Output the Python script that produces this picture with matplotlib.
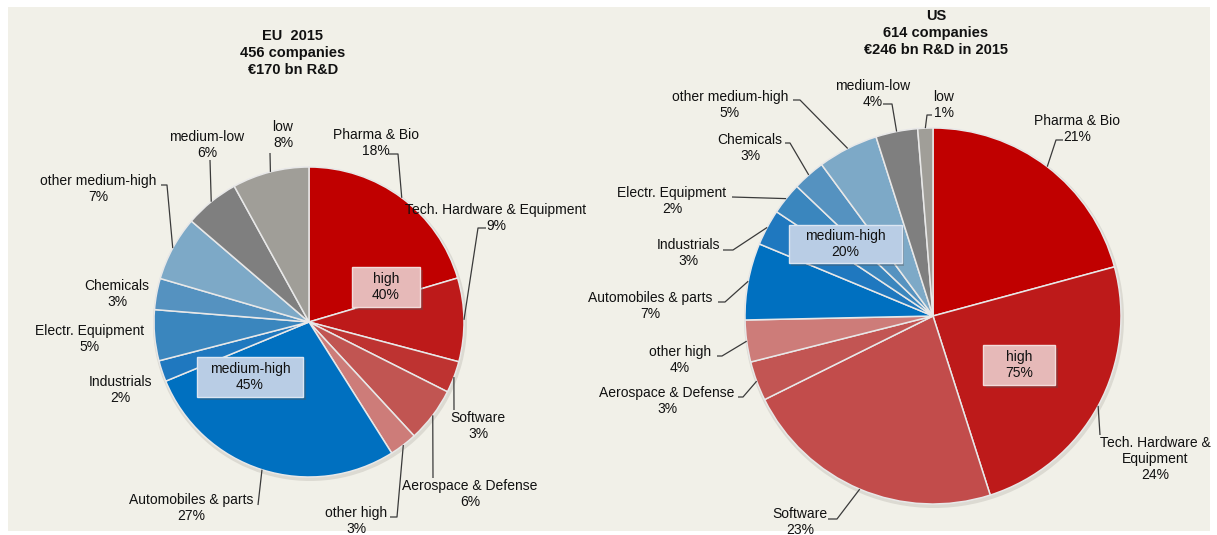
import numpy as np
import matplotlib
matplotlib.use("Agg")
import matplotlib.pyplot as plt
from matplotlib import font_manager
from matplotlib.patches import Rectangle, Circle
import matplotlib.patheffects as pe

W, H = 1217, 535

# sector shares (clockwise from 12 o'clock)
sectors = ["Pharma & Bio", "Tech. Hardware & Equipment", "Software", "Aerospace & Defense",
           "other high", "Automobiles & parts", "Industrials", "Electr. Equipment",
           "Chemicals", "other medium-high", "medium-low", "low"]
eu_values = [20.4, 8.7, 3.3, 5.7, 2.9, 27.7, 2.2, 5.3, 3.25, 6.75, 5.7, 8.0]
us_values = [20.8, 24.3, 22.6, 3.4, 3.6, 6.6, 3.1, 2.75, 2.8, 5.2, 3.6, 1.3]

# percentages as printed on the chart
eu_pct = ["18%", "9%", "3%", "6%", "3%", "27%", "2%", "5%", "3%", "7%", "6%", "8%"]
us_pct = ["21%", "24%", "23%", "3%", "4%", "7%", "3%", "2%", "3%", "5%", "4%", "1%"]

eu_groups = [("high", "40%"), ("medium-high", "45%")]
us_groups = [("medium-high", "20%"), ("high", "75%")]

eu_title = "EU  2015\n456 companies\n€170 bn R&D"
us_title = "US\n614 companies\n€246 bn R&D in 2015"

eu_colors = ["#C00000", "#BD1A1A", "#BE3331", "#C15552", "#CD7C79", "#0070C0",
             "#1F78BF", "#3A86BE", "#5592C0", "#7DA9C7", "#7F7F7F", "#A09E98"]
us_colors = ["#C00000", "#BD1A1A", "#C24C4B", "#C25553", "#CD7C79", "#0070C0",
             "#1F78BF", "#3A86BE", "#5592C0", "#7DA9C7", "#7F7F7F", "#A09E98"]

names = {f.name for f in font_manager.fontManager.ttflist}
title_font = "Liberation Sans Narrow" if "Liberation Sans Narrow" in names else "Liberation Sans"
plt.rcParams["font.family"] = ["Liberation Sans", "DejaVu Sans"]


def P(x, y):
    # reference pixel -> data coords
    return x, H - y


fig = plt.figure(figsize=(W / 100, H / 100), dpi=100)
fig.patch.set_facecolor("white")
ax = fig.add_axes([0, 0, 1, 1])
ax.add_patch(Rectangle(P(8, 531), 1202, 524, facecolor="#F1F0E8", edgecolor="none", zorder=0))


def draw_pie(values, colors, center, r):
    cx, cy = P(*center)
    ax.add_patch(Circle((cx + 1, cy - 2), r + 2, facecolor="#DCDAD2", edgecolor="none", zorder=1))
    wedges, _ = ax.pie(values, colors=colors, startangle=90, counterclock=False,
                       center=(cx, cy), radius=r,
                       wedgeprops=dict(edgecolor="#E8E8E8", linewidth=1.1))
    for w in wedges:
        w.set_zorder(2)
    # edge point at each wedge's middle angle
    cum = np.cumsum([0] + list(values)) / sum(values) * 360
    mids = (cum[:-1] + cum[1:]) / 2
    pts = [(cx + r * np.sin(np.radians(a)), cy + r * np.cos(np.radians(a))) for a in mids]
    return pts


def label(text, pos, path, edge):
    ax.text(*P(*pos), text, ha="center", va="center", fontsize=10, color="#111111",
            linespacing=1.15, zorder=5)
    if path is not None:
        xs = [P(*p)[0] for p in path] + [edge[0]]
        ys = [P(*p)[1] for p in path] + [edge[1]]
        ax.plot(xs, ys, color="#3A3A3A", lw=0.9, zorder=4, solid_capstyle="butt")


def group_box(name, pct, pos, w, h, fc, ec):
    x, y = P(*pos)
    box = Rectangle((x - w / 2, y - h / 2), w, h, facecolor=fc, edgecolor=ec, lw=1.0, zorder=6)
    box.set_path_effects([pe.SimplePatchShadow(offset=(2, -2), shadow_rgbFace="#555555", alpha=0.35),
                          pe.Normal()])
    ax.add_patch(box)
    ax.text(x, y, name + "\n" + pct, ha="center", va="center", fontsize=10,
            color="#111111", linespacing=1.15, zorder=7)


# ---- EU ----
eu_edge = draw_pie(eu_values, eu_colors, (309, 322), 155)
eu_pos = [(376, 143), (496, 218), (478, 426), (470, 494), (356, 521), (191, 508),
          (120, 390), (90, 339), (117, 294), (98, 189), (207, 145), (283, 135)]
eu_paths = [[(389, 154), (398, 154)], [(486, 228), (478, 228)], [(454, 410)], [(433, 478)],
            [(390, 517), (397, 517)], [(258, 505)], None, None, None,
            [(161, 185), (167, 185)], [(210, 160)], [(270, 153)]]
for i in range(len(sectors)):
    label(sectors[i] + "\n" + eu_pct[i], eu_pos[i], eu_paths[i], eu_edge[i])
group_box(eu_groups[0][0], eu_groups[0][1], (386, 287), 68, 40, "#E6B9B8", "#F2DCDB")
group_box(eu_groups[1][0], eu_groups[1][1], (250, 377), 106, 40, "#B9CDE5", "#DCE6F2")
ax.text(*P(293, 53), eu_title, ha="center", va="center", fontsize=10.5, fontweight="bold",
        family=[title_font, "DejaVu Sans"], linespacing=1.3, color="#111111")

# ---- US ----
us_edge = draw_pie(us_values, us_colors, (933, 316), 188)
us_pos = [(1077, 129), (1155, 459), (800, 522), (667, 401), (680, 360), (650, 306),
          (688, 253), (672, 201), (750, 148), (730, 105), (873, 94), (944, 105)]
us_paths = [[(1063, 140), (1056, 140)], [(1100, 435)], [(828, 519), (837, 519)],
            [(738, 397), (743, 397)], [(717, 356), (722, 356)], [(718, 302), (725, 302)],
            [(723, 250), (733, 250)], [(732, 197)], [(785, 143), (790, 143)],
            [(793, 100), (800, 100)], [(883, 104), (892, 104)], [(932, 115), (927, 115)]]
us_names = list(sectors)
us_names[1] = "Tech. Hardware &\nEquipment"
for i in range(len(sectors)):
    label(us_names[i] + "\n" + us_pct[i], us_pos[i], us_paths[i], us_edge[i])
group_box(us_groups[0][0], us_groups[0][1], (845, 244), 113, 38, "#B9CDE5", "#DCE6F2")
group_box(us_groups[1][0], us_groups[1][1], (1019, 365), 72, 40, "#E6B9B8", "#F2DCDB")
ax.text(*P(936, 33), us_title, ha="center", va="center", fontsize=10.5, fontweight="bold",
        family=[title_font, "DejaVu Sans"], linespacing=1.3, color="#111111")

ax.set_xlim(0, W)
ax.set_ylim(0, H)
ax.set_aspect("equal")
ax.axis("off")
fig.savefig("out.png", dpi=100, facecolor="white")
